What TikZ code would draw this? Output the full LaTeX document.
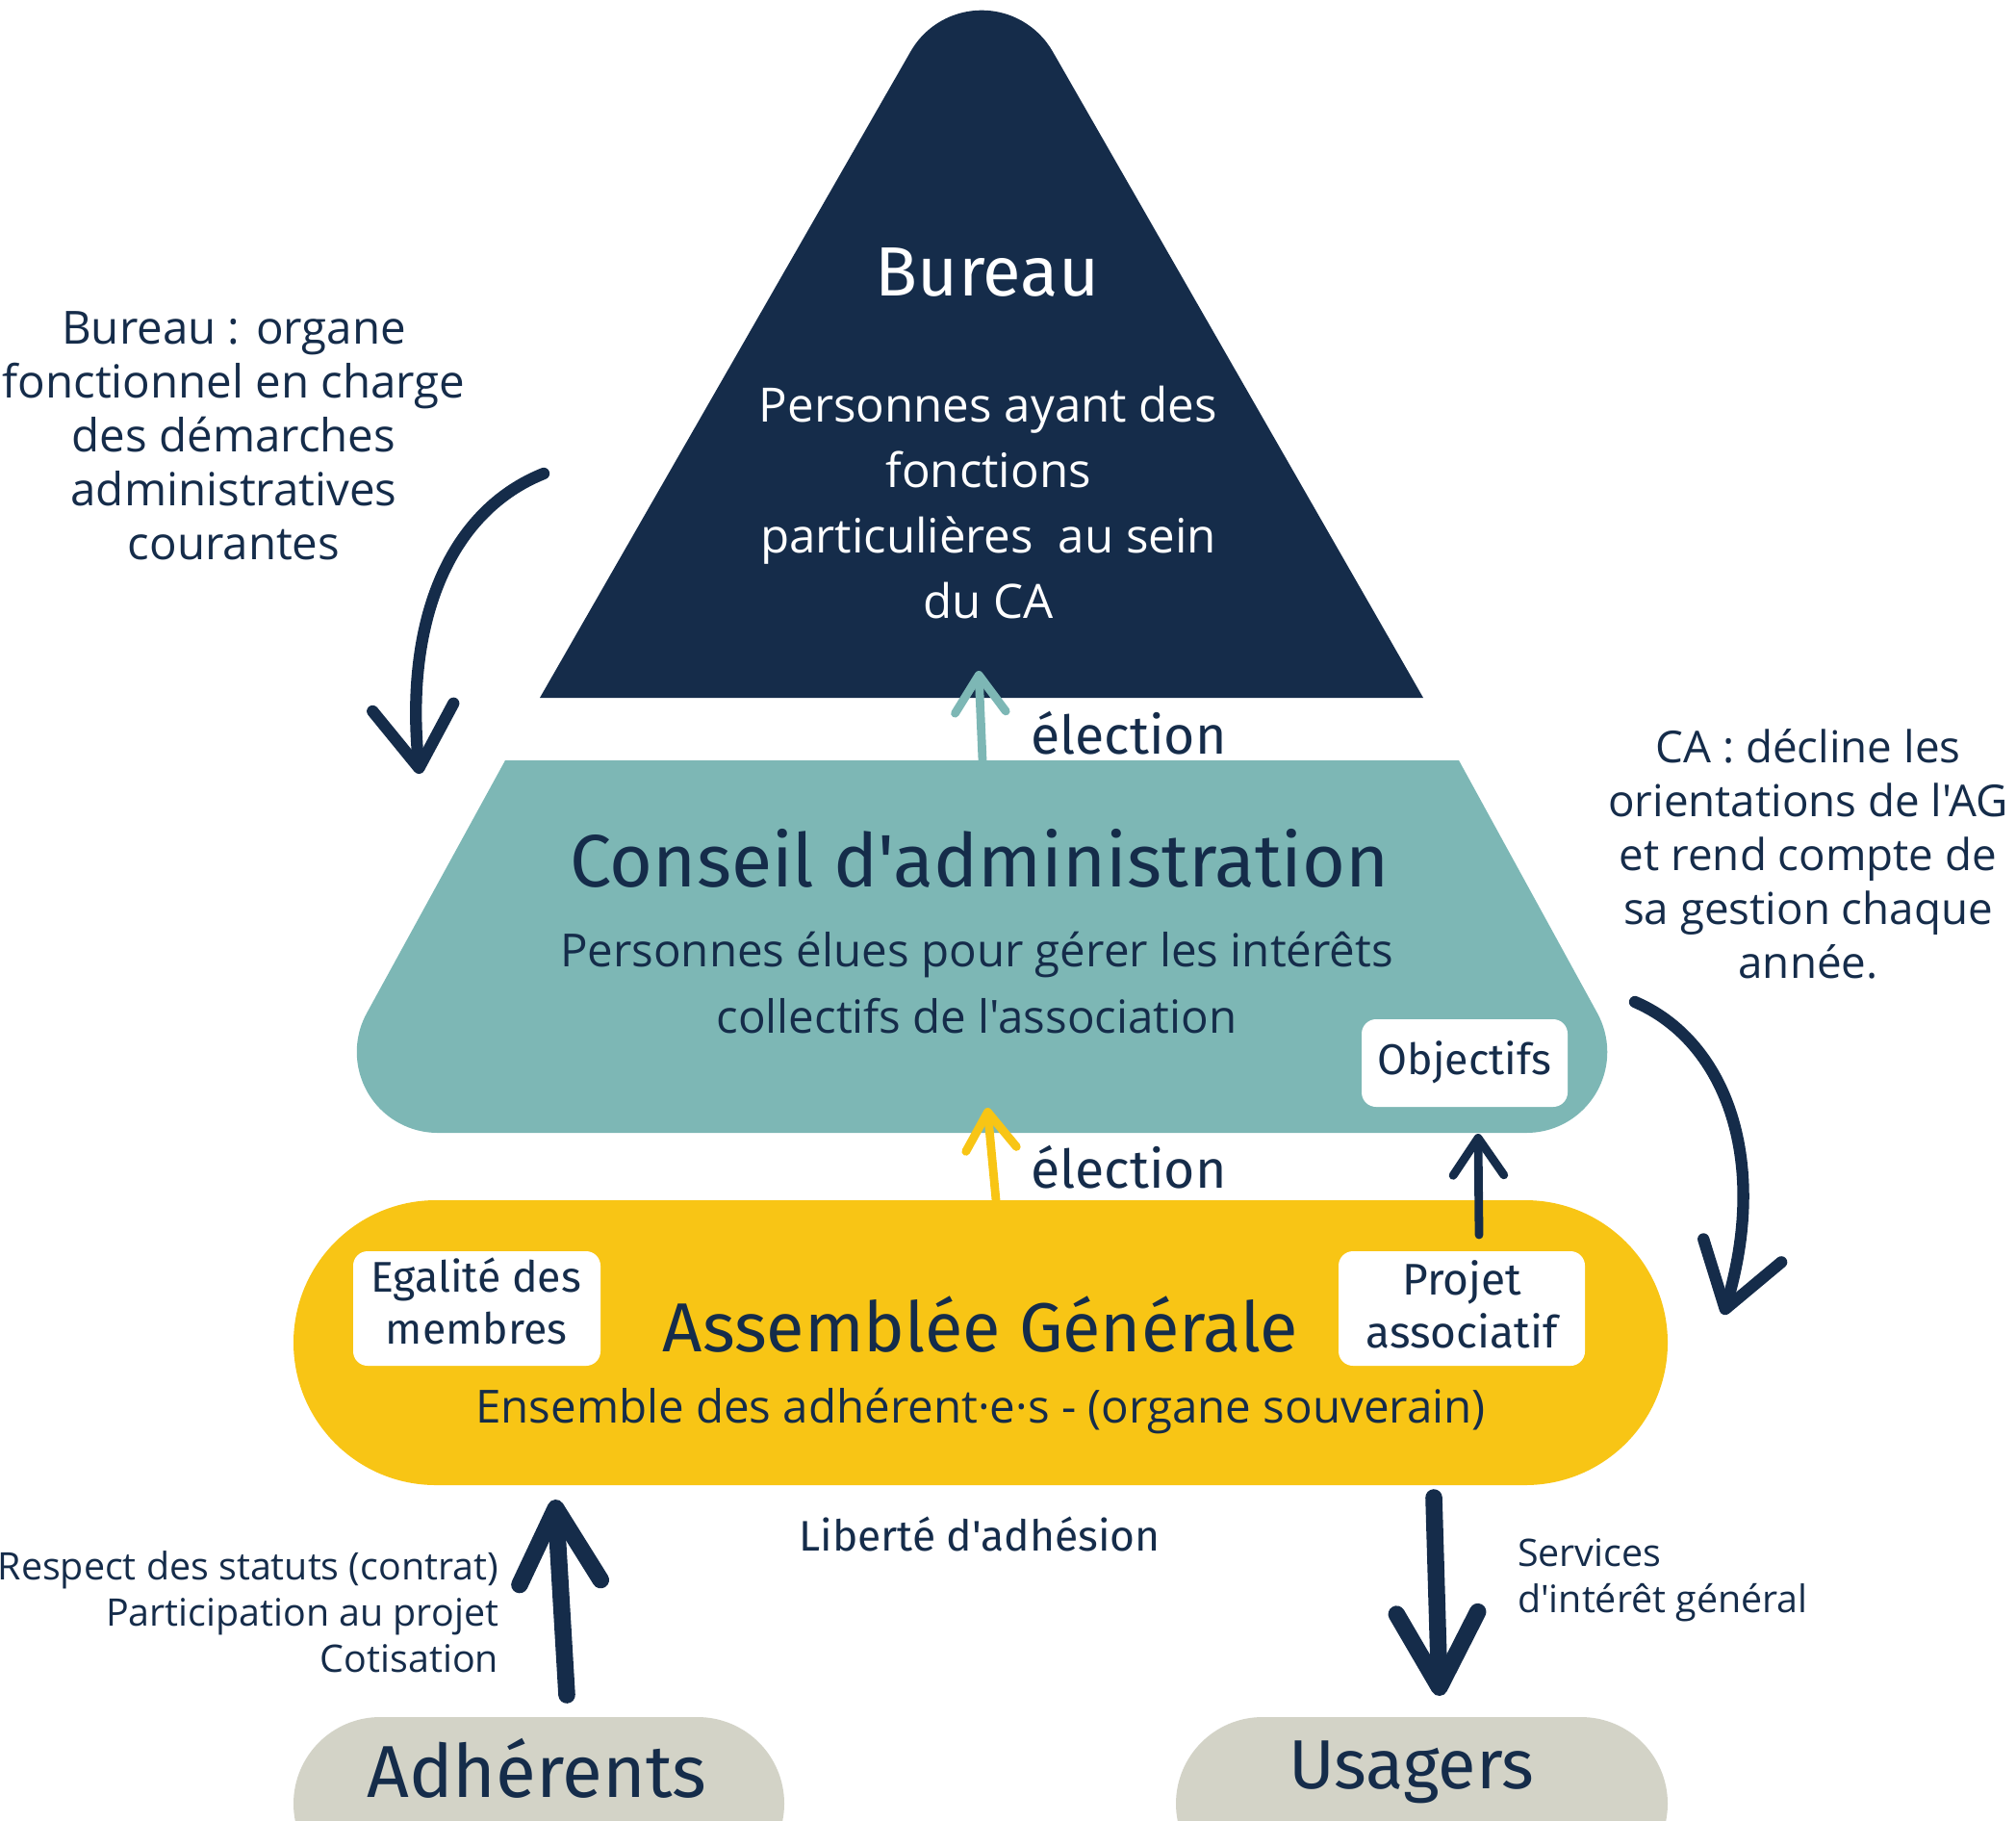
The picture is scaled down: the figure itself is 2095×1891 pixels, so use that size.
\documentclass[tikz,border=0pt]{standalone}
\usepackage{fontspec}
\setmainfont{Open Sans}[Ligatures=TeXOff]
\newfontfamily\hand{Fira Sans}
\usepackage{graphicx}
\usetikzlibrary{arrows.meta}
\definecolor{navy}{HTML}{152C4A}
\definecolor{tealc}{HTML}{7DB7B5}
\definecolor{yel}{HTML}{F8C515}
\definecolor{greyc}{HTML}{D3D3C7}
\begin{document}
\begin{tikzpicture}[x=0.01cm,y=-0.01cm,
  every node/.style={inner sep=0pt,outer sep=0pt},
  body/.style={font=\fontsize{13.5}{19.4}\selectfont,align=center,text=navy},
  side/.style={font=\fontsize{13.5}{15.9}\selectfont,align=center,text=navy},
  small/.style={font=\fontsize{11.2}{13.7}\selectfont,text=navy},
  hw/.style={text=navy},
  wbox/.style={fill=white,rounded corners=0.15cm},
  elec/.style={line width=2.5pt,line cap=round,-{Straight Barb[length=11pt,width=15pt,round]}},
  carrow/.style={navy,line width=3.5pt,line cap=round,-{Straight Barb[length=18pt,width=24pt,round]}},
  barrow/.style={navy,line width=5pt,line cap=round,-{Straight Barb[length=22pt,width=24pt,round]}}
]
\useasboundingbox (0,0) rectangle (2095,1891);

% Bureau triangle
\fill[navy] (561,725) -- (946.3,53.5) arc[start angle=150.2,end angle=29.8,radius=0.85cm] -- (1479,725) -- cycle;

% CA shape
\fill[tealc] (525,790) -- (381.1,1052.6) arc[start angle=151.3,end angle=270,radius=0.84cm]
  -- (1586.2,1177) arc[start angle=-90,end angle=28.7,radius=0.84cm] -- (1516,790) -- cycle;

% AG stadium
\fill[yel,rounded corners=1.48cm] (305,1247) rectangle (1733,1543);

% bottom pills
\fill[greyc,rounded corners=0.9cm] (305,1784) rectangle (815,1964);
\fill[greyc,rounded corners=0.9cm] (1222,1784) rectangle (1733,1964);

% white boxes
\fill[wbox] (1415,1059) rectangle (1629,1150);
\fill[wbox] (367,1300) rectangle (624,1419);
\fill[wbox] (1391,1300) rectangle (1647,1419);

% coordinates for connectors
\coordinate (caTop) at (1021,790);
\coordinate (buBot) at (1017,697);
\coordinate (agTop) at (1035,1247);
\coordinate (caBot) at (1026,1151);
\coordinate (projTop) at (1537,1283);
\coordinate (objBot) at (1536,1178);
\coordinate (bl1) at (565,492);
\coordinate (bl2) at (436,804);
\coordinate (cr1) at (1699,1041);
\coordinate (cr2) at (1791,1366);
\coordinate (adTop) at (589,1761);
\coordinate (agBotL) at (577,1558);
\coordinate (agBotR) at (1490,1556);
\coordinate (usTop) at (1496,1762);

\draw[elec,tealc] (caTop) -- (buBot);
\draw[elec,yel] (agTop) -- (caBot);
\draw[elec,navy] (projTop) -- (objBot);
\draw[carrow] (bl1) .. controls (470,530) and (420,640) .. (bl2);
\draw[carrow] (cr1) .. controls (1790,1080) and (1840,1200) .. (cr2);
\draw[barrow] (adTop) -- (agBotL);
\draw[barrow] (agBotR) -- (usTop);

% texts
\node[text=white] (tbu) at (1026,283) {\resizebox{2.32cm}{!}{\hand Bureau}};
\node[body,text=white,font=\fontsize{14}{19.4}\selectfont] (tbub) at (1027,522)
  {Personnes ayant des\\fonctions\\particulières~ au sein\\du CA};
\node[hw] (tca) at (1018,892) {\resizebox{8.51cm}{!}{\hand Conseil d'administration}};
\node[body] (tcab) at (1015,1021) {Personnes élues pour gérer les intérêts\\collectifs de l'association};
\node[hw] (tobj) at (1522,1104) {\resizebox{1.8cm}{!}{\hand Objectifs}};
\node[hw] (teg) at (495,1359) {\resizebox{2.18cm}{!}{\hand\begin{tabular}{@{}c@{}}Egalité des\\[0pt]membres\end{tabular}}};
\node[hw] (tpr) at (1519,1362) {\resizebox{1.99cm}{!}{\hand\begin{tabular}{@{}c@{}}Projet\\[0pt]associatif\end{tabular}}};
\node[hw] (tag) at (1019,1376) {\resizebox{6.6cm}{!}{\hand Assemblée Générale}};
\node[body,font=\fontsize{13.5}{19.4}\selectfont] (tagb) at (1019,1466) {Ensemble des adhérent·e·s - (organe souverain)};
\node[hw] (te1) at (1173,762) {\resizebox{2.03cm}{!}{\hand élection}};
\node[hw] (te2) at (1173,1213) {\resizebox{2.03cm}{!}{\hand élection}};
\node[hw] (tlib) at (1018,1594) {\resizebox{3.75cm}{!}{\hand Liberté d'adhésion}};
\node[hw] (tadh) at (558,1837) {\resizebox{3.53cm}{!}{\hand Adhérents}};
\node[hw] (tusa) at (1467,1841) {\resizebox{2.55cm}{!}{\hand Usagers}};
\node[side] (tleft) at (243,453) {Bureau : organe\\fonctionnel en charge\\des démarches\\administratives\\courantes};
\node[side,font=\fontsize{13}{15.9}\selectfont] (tright) at (1879,887) {CA : décline les\\orientations de l'AG\\et rend compte de\\sa gestion chaque\\année.};
\node[small,align=right,anchor=east] (tresp) at (518,1675) {Respect des statuts (contrat)\\Participation au projet\\Cotisation};
\node[small,align=left,anchor=west] (tserv) at (1577,1642) {Services\\d'intérêt général};
\end{tikzpicture}
\end{document}
